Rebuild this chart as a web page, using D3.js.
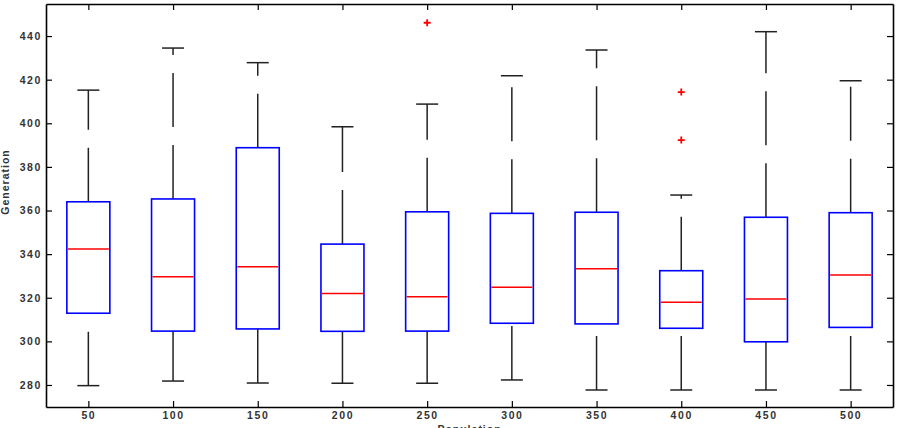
<!DOCTYPE html>
<html>
<head>
<meta charset="utf-8">
<script src="https://cdn.jsdelivr.net/npm/d3@7"></script>
<style>
  body { margin: 0; background: #fff; }
  svg text { font-family: "Liberation Sans", Arial, sans-serif; font-weight: bold; }
</style>
</head>
<body>
<svg id="chart"></svg>
<script>
// values
let categories = ['50', '100', '150', '200', '250', '300', '350', '400', '450', '500'];
let upperWhisker = [415.2, 434.5, 427.8, 398.4, 408.8, 421.8, 433.6, 367.1, 442.0, 419.5];
let q3Values = [364.0, 365.3, 388.8, 344.6, 359.4, 358.7, 359.2, 332.4, 356.9, 359.0];
let medians = [342.3, 329.6, 334.2, 322.0, 320.5, 324.8, 333.3, 317.9, 319.4, 330.4];
let q1Values = [312.9, 304.7, 305.7, 304.6, 304.7, 308.3, 308.0, 306.0, 299.8, 306.4];
let lowerWhisker = [279.7, 281.8, 280.9, 280.8, 280.8, 282.3, 277.7, 277.7, 277.7, 277.7];
let outliers = [[], [], [], [], [446.1], [], [], [414.3, 392.3], [], []];
let yTicks = [280, 300, 320, 340, 360, 380, 400, 420, 440];

let w = 903;
let h = 428;
let padL = 46, padR = 893, padT = 4, padB = 407;

let svg = d3.select('#chart').attr('width', w).attr('height', h);

let xScale = d3.scalePoint()
               .domain(categories)
               .range([padL, padR])
               .padding(0.5);

let yScale = d3.scaleLinear()
               .domain([269.9, 454.7])
               .range([padB, padT]);

let boxW = 43;
let capW = 22;

let rows = categories.map((c, i) => ({
  cat: c,
  hi: upperWhisker[i],
  q3: q3Values[i],
  med: medians[i],
  q1: q1Values[i],
  lo: lowerWhisker[i],
  out: outliers[i]
}));

let g = svg.selectAll('g.box')
           .data(rows)
           .enter()
           .append('g')
           .attr('class', 'box');

// whiskers, dashed, pattern runs upward from the lower end
g.append('line')
 .attr('x1', d => xScale(d.cat)).attr('x2', d => xScale(d.cat))
 .attr('y1', d => yScale(d.q3)).attr('y2', d => yScale(d.hi))
 .attr('stroke', '#222').attr('stroke-width', 1.5)
 .attr('stroke-dasharray', '54,18');

g.append('line')
 .attr('x1', d => xScale(d.cat)).attr('x2', d => xScale(d.cat))
 .attr('y1', d => yScale(d.lo)).attr('y2', d => yScale(d.q1))
 .attr('stroke', '#222').attr('stroke-width', 1.5)
 .attr('stroke-dasharray', '54,18');

// caps
['hi', 'lo'].forEach(k => {
  g.append('line')
   .attr('x1', d => xScale(d.cat) - capW / 2).attr('x2', d => xScale(d.cat) + capW / 2)
   .attr('y1', d => yScale(d[k])).attr('y2', d => yScale(d[k]))
   .attr('stroke', '#222').attr('stroke-width', 1.5);
});

g.append('rect')
 .attr('x', d => xScale(d.cat) - boxW / 2)
 .attr('width', boxW)
 .attr('y', d => yScale(d.q3))
 .attr('height', d => yScale(d.q1) - yScale(d.q3))
 .attr('fill', 'none')
 .attr('stroke', '#0000ff')
 .attr('stroke-width', 1.6);

g.append('line')
 .attr('x1', d => xScale(d.cat) - boxW / 2 + 1).attr('x2', d => xScale(d.cat) + boxW / 2 - 1)
 .attr('y1', d => yScale(d.med)).attr('y2', d => yScale(d.med))
 .attr('stroke', '#ff0000').attr('stroke-width', 1.5);

// outliers as red plus signs
g.selectAll('path.out')
 .data(d => d.out.map(v => ({ cat: d.cat, v: v })))
 .enter()
 .append('path')
 .attr('class', 'out')
 .attr('d', d => {
   let cx = xScale(d.cat), cy = yScale(d.v);
   return 'M' + (cx - 3.5) + ',' + cy + 'H' + (cx + 3.5) + 'M' + cx + ',' + (cy - 3.5) + 'V' + (cy + 3.5);
 })
 .attr('stroke', '#ff0000').attr('stroke-width', 1.8);

// axes on all four sides, ticks pointing in
let styleAxis = sel => {
  sel.selectAll('path.domain').attr('stroke', '#000').attr('stroke-width', 1.6);
  sel.selectAll('.tick line').attr('stroke', '#000').attr('stroke-width', 1.2);
  sel.selectAll('text').attr('fill', '#333').style('font-size', '10.5px').style('letter-spacing', '1.6px');
};

svg.append('g')
   .attr('transform', 'translate(0,' + padB + ')')
   .call(d3.axisBottom(xScale).tickSizeInner(-6).tickSizeOuter(0).tickPadding(5))
   .call(styleAxis);

svg.append('g')
   .attr('transform', 'translate(0,' + padT + ')')
   .call(d3.axisTop(xScale).tickSizeInner(-6).tickSizeOuter(0).tickFormat(''))
   .call(styleAxis);

svg.append('g')
   .attr('transform', 'translate(' + padL + ',0)')
   .call(d3.axisLeft(yScale).tickValues(yTicks).tickSizeInner(-6).tickSizeOuter(0).tickPadding(4))
   .call(styleAxis);

svg.append('g')
   .attr('transform', 'translate(' + padR + ',0)')
   .call(d3.axisRight(yScale).tickValues(yTicks).tickSizeInner(-6).tickSizeOuter(0).tickFormat(''))
   .call(styleAxis);

// axis titles
svg.append('text')
   .attr('transform', 'translate(9,182) rotate(-90)')
   .attr('text-anchor', 'middle')
   .attr('fill', '#333')
   .style('font-size', '10.5px')
   .style('letter-spacing', '1px')
   .text('Generation');

svg.append('text')
   .attr('x', (padL + padR) / 2)
   .attr('y', 433)
   .attr('text-anchor', 'middle')
   .attr('fill', '#333')
   .style('font-size', '10.5px')
   .style('letter-spacing', '1px')
   .text('Population');
</script>
</body>
</html>
